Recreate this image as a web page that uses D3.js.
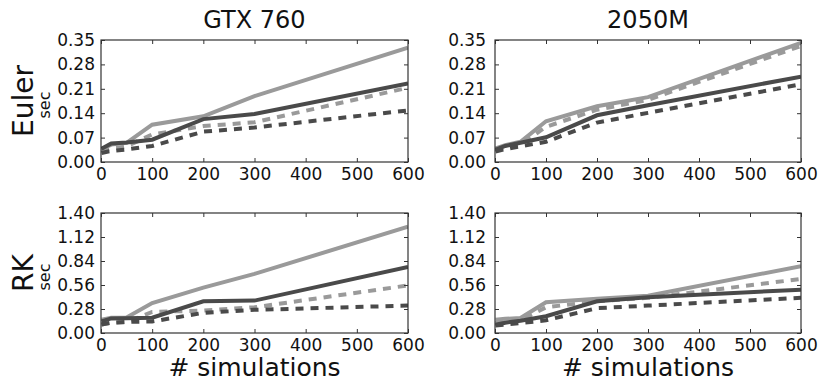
<!DOCTYPE html>
<html>
<head>
<meta charset="utf-8">
<script src="https://cdn.jsdelivr.net/npm/d3@7"></script>
<style>
    body { margin: 0; background: #ffffff; }
    svg { display: block; font-family: "DejaVu Sans", sans-serif; }
</style>
</head>
<body>
<svg id="chart"></svg>
<script>
// number of simulations, same for every panel
let simulations = [1, 20, 50, 100, 200, 300, 600];

let xTicks = [0, 100, 200, 300, 400, 500, 600];
let eulerTicks = [0.00, 0.07, 0.14, 0.21, 0.28, 0.35];
let rkTicks = [0.00, 0.28, 0.56, 0.84, 1.12, 1.40];

let columns = ["GTX 760", "2050M"];
let rows = ["Euler", "RK"];

// seconds
// GTX 760 / Euler
let gtxEulerLightSolid = [0.037, 0.050, 0.055, 0.107, 0.131, 0.189, 0.328];
let gtxEulerDarkSolid  = [0.038, 0.053, 0.056, 0.064, 0.123, 0.138, 0.225];
let gtxEulerLightDash  = [0.031, 0.038, 0.045, 0.079, 0.103, 0.114, 0.213];
let gtxEulerDarkDash   = [0.026, 0.032, 0.036, 0.046, 0.087, 0.099, 0.148];

// 2050M / Euler
let mEulerLightSolid = [0.039, 0.048, 0.058, 0.117, 0.160, 0.186, 0.342];
let mEulerDarkSolid  = [0.035, 0.046, 0.055, 0.071, 0.134, 0.163, 0.245];
let mEulerLightDash  = [0.033, 0.042, 0.050, 0.101, 0.150, 0.178, 0.333];
let mEulerDarkDash   = [0.030, 0.037, 0.045, 0.058, 0.113, 0.141, 0.223];

// GTX 760 / RK
let gtxRkLightSolid = [0.155, 0.178, 0.180, 0.350, 0.530, 0.690, 1.240];
let gtxRkDarkSolid  = [0.135, 0.170, 0.172, 0.178, 0.370, 0.378, 0.770];
let gtxRkLightDash  = [0.100, 0.120, 0.125, 0.245, 0.262, 0.300, 0.555];
let gtxRkDarkDash   = [0.100, 0.120, 0.130, 0.135, 0.235, 0.270, 0.320];

// 2050M / RK
let mRkLightSolid = [0.155, 0.165, 0.175, 0.358, 0.400, 0.435, 0.780];
let mRkDarkSolid  = [0.097, 0.120, 0.144, 0.195, 0.370, 0.416, 0.506];
let mRkLightDash  = [0.117, 0.135, 0.148, 0.300, 0.370, 0.410, 0.630];
let mRkDarkDash   = [0.086, 0.100, 0.117, 0.148, 0.290, 0.320, 0.410];

let lightGrey = "#9a9a9a";
let darkGrey = "#4a4a4a";

let width = 819;
let height = 384;

let svg = d3.select("#chart").attr("width", width).attr("height", height);

// panel boxes
let colX = [[101, 408], [495, 801]];
let rowY = [[40, 162], [213, 333]];

let panels = [
    {col: 0, row: 0, ticks: eulerTicks, series: [gtxEulerLightSolid, gtxEulerLightDash, gtxEulerDarkSolid, gtxEulerDarkDash]},
    {col: 1, row: 0, ticks: eulerTicks, series: [mEulerLightSolid, mEulerLightDash, mEulerDarkSolid, mEulerDarkDash]},
    {col: 0, row: 1, ticks: rkTicks, series: [gtxRkLightSolid, gtxRkLightDash, gtxRkDarkSolid, gtxRkDarkDash]},
    {col: 1, row: 1, ticks: rkTicks, series: [mRkLightSolid, mRkLightDash, mRkDarkSolid, mRkDarkDash]}
];

// light solid, light dashed, dark solid, dark dashed
let styles = [
    {color: lightGrey, dash: null},
    {color: lightGrey, dash: "8,7"},
    {color: darkGrey, dash: null},
    {color: darkGrey, dash: "8,7"}
];

let labelPad = [6, 9];

panels.forEach(function(p, i){
    let x0 = colX[p.col][0], x1 = colX[p.col][1];
    let y0 = rowY[p.row][0], y1 = rowY[p.row][1];

    let x = d3.scaleLinear().domain([0, 600]).range([x0, x1]);
    let y = d3.scaleLinear().domain([0, p.ticks[p.ticks.length - 1]]).range([y1, y0]);

    let g = svg.append("g");

    svg.append("clipPath").attr("id", "clip" + i)
        .append("rect").attr("x", x0).attr("y", y0).attr("width", x1 - x0).attr("height", y1 - y0);

    let line = d3.line()
        .x(function(d, k){ return x(simulations[k]); })
        .y(function(d){ return y(d); });

    p.series.forEach(function(values, s){
        g.append("path")
            .datum(values)
            .attr("clip-path", "url(#clip" + i + ")")
            .attr("d", line)
            .attr("fill", "none")
            .attr("stroke", styles[s].color)
            .attr("stroke-width", 4)
            .attr("stroke-dasharray", styles[s].dash);
    });

    // axes, ticks pointing inwards on all four sides
    let tickFmt = function(d){ return d.toFixed(2); };

    let bottom = g.append("g").attr("transform", "translate(0," + y1 + ")")
        .call(d3.axisBottom(x).tickValues(xTicks).tickSizeInner(-4).tickSizeOuter(0).tickPadding(5));
    let top = g.append("g").attr("transform", "translate(0," + y0 + ")")
        .call(d3.axisTop(x).tickValues(xTicks).tickSizeInner(-4).tickSizeOuter(0).tickFormat(""));
    let left = g.append("g").attr("transform", "translate(" + x0 + ",0)")
        .call(d3.axisLeft(y).tickValues(p.ticks).tickSizeInner(-4).tickSizeOuter(0).tickPadding(labelPad[p.col]).tickFormat(tickFmt));
    let right = g.append("g").attr("transform", "translate(" + x1 + ",0)")
        .call(d3.axisRight(y).tickValues(p.ticks).tickSizeInner(-4).tickSizeOuter(0).tickFormat(""));

    [bottom, top, left, right].forEach(function(a){
        a.select(".domain").remove();
        a.selectAll("line").attr("stroke", "#333333").attr("stroke-width", 1);
        a.selectAll("text")
            .attr("font-size", 17)
            .attr("font-family", "DejaVu Sans, sans-serif")
            .attr("fill", "#111111");
    });
    bottom.selectAll("text").attr("dy", "0.75em");

    // frame
    g.append("rect")
        .attr("x", x0).attr("y", y0)
        .attr("width", x1 - x0).attr("height", y1 - y0)
        .attr("fill", "none")
        .attr("stroke", "#333333")
        .attr("stroke-width", 1.2);
});

// column titles
columns.forEach(function(name, c){
    svg.append("text")
        .attr("x", (colX[c][0] + colX[c][1]) / 2)
        .attr("y", 28)
        .attr("text-anchor", "middle")
        .attr("font-size", 24)
        .attr("fill", "#111111")
        .text(name);

    svg.append("text")
        .attr("x", (colX[c][0] + colX[c][1]) / 2)
        .attr("y", 376)
        .attr("text-anchor", "middle")
        .attr("font-size", 25)
        .attr("fill", "#111111")
        .text("# simulations");
});

// row labels with the "sec" unit next to them
rows.forEach(function(name, r){
    let cy = (rowY[r][0] + rowY[r][1]) / 2;

    svg.append("text")
        .attr("transform", "translate(33," + cy + ") rotate(-90)")
        .attr("text-anchor", "middle")
        .attr("font-size", 28)
        .attr("fill", "#111111")
        .text(name);

    svg.append("text")
        .attr("transform", "translate(50," + (cy + 4) + ") rotate(-90)")
        .attr("text-anchor", "middle")
        .attr("font-size", 16)
        .attr("fill", "#111111")
        .text("sec");
});
</script>
</body>
</html>
